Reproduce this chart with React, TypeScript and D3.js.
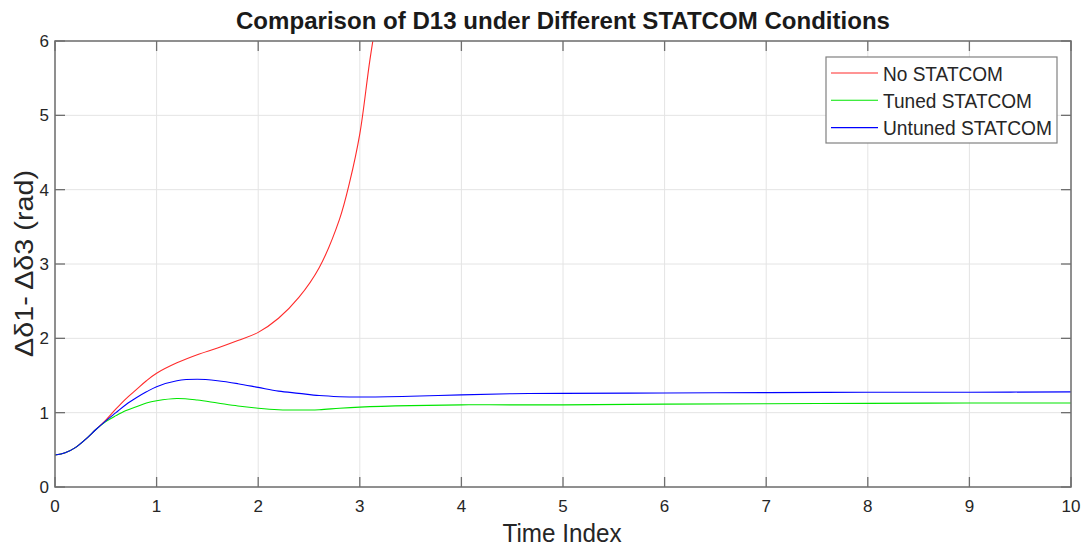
import React, { useRef, useEffect } from "react";
import * as d3 from "d3";

// sample times for the stable runs
const timeIndex = [
  0, 0.1, 0.2, 0.3, 0.4, 0.5, 0.6, 0.7, 0.8, 0.9, 1.0, 1.2, 1.4, 1.6, 1.8, 2.0,
  2.2, 2.4, 2.6, 2.8, 3.0, 3.5, 4, 4.5, 5, 6, 7, 8, 9, 10,
];
const tunedStatcom = [
  0.43, 0.46, 0.53, 0.64, 0.77, 0.88, 0.96, 1.03, 1.08, 1.13, 1.16, 1.19, 1.17,
  1.13, 1.09, 1.06, 1.04, 1.035, 1.04, 1.06, 1.075, 1.095, 1.105, 1.105, 1.105,
  1.115, 1.12, 1.125, 1.13, 1.13,
];
const untunedStatcom = [
  0.43, 0.46, 0.53, 0.64, 0.77, 0.89, 1.0, 1.11, 1.2, 1.28, 1.35, 1.43, 1.45,
  1.43, 1.39, 1.34, 1.29, 1.26, 1.23, 1.215, 1.21, 1.22, 1.24, 1.255, 1.26,
  1.265, 1.27, 1.275, 1.275, 1.28,
];
// unstable run, leaves the plot near t = 3.1
const timeNoStatcom = [
  0, 0.1, 0.2, 0.3, 0.4, 0.5, 0.6, 0.7, 0.8, 0.9, 1.0, 1.2, 1.4, 1.6, 1.8, 2.0,
  2.2, 2.4, 2.6, 2.8, 2.9, 3.0, 3.1, 3.2,
];
const noStatcom = [
  0.43, 0.46, 0.53, 0.64, 0.77, 0.9, 1.05, 1.19, 1.31, 1.43, 1.53, 1.67, 1.78,
  1.87, 1.97, 2.08, 2.27, 2.55, 2.95, 3.6, 4.1, 4.75, 5.75, 6.6,
];

const xTicks = [0, 1, 2, 3, 4, 5, 6, 7, 8, 9, 10];
const yTicks = [0, 1, 2, 3, 4, 5, 6];

const seriesNames = ["No STATCOM", "Tuned STATCOM", "Untuned STATCOM"];
const seriesColors = ["#ff2a2a", "#00e600", "#0000ff"];

const W = 1083;
const H = 548;
const margin = { left: 55, right: 12, top: 41, bottom: 61 };
const font = "'Liberation Sans', Arial, sans-serif";

const App = () => {
  const ref: any = useRef();

  useEffect(() => {
    const svg = d3.select(ref.current);
    svg.selectAll("*").remove();

    const x = d3
      .scaleLinear()
      .domain([0, 10])
      .range([margin.left, W - margin.right]);
    const y = d3
      .scaleLinear()
      .domain([0, 6])
      .range([H - margin.bottom, margin.top]);

    const [x0, x1] = x.range();
    const [y0, y1] = y.range();

    // grid
    const grid = svg.append("g");
    grid
      .selectAll(".gx")
      .data(xTicks)
      .enter()
      .append("line")
      .attr("x1", (d: any) => x(d))
      .attr("x2", (d: any) => x(d))
      .attr("y1", y0)
      .attr("y2", y1)
      .attr("stroke", "#e4e4e4");
    grid
      .selectAll(".gy")
      .data(yTicks)
      .enter()
      .append("line")
      .attr("y1", (d: any) => y(d))
      .attr("y2", (d: any) => y(d))
      .attr("x1", x0)
      .attr("x2", x1)
      .attr("stroke", "#e4e4e4");

    // lines, clipped to the axes box
    svg
      .append("clipPath")
      .attr("id", "plot-clip")
      .append("rect")
      .attr("x", x0)
      .attr("y", y1)
      .attr("width", x1 - x0)
      .attr("height", y0 - y1);

    const line = d3
      .line<[number, number]>()
      .x((d) => x(d[0]))
      .y((d) => y(d[1]))
      .curve(d3.curveCatmullRom.alpha(0.5));

    const series: [number, number][][] = [
      timeNoStatcom.map((t, i) => [t, noStatcom[i]]),
      timeIndex.map((t, i) => [t, tunedStatcom[i]]),
      timeIndex.map((t, i) => [t, untunedStatcom[i]]),
    ];

    const lines = svg.append("g").attr("clip-path", "url(#plot-clip)");
    [0, 1, 2].forEach((k) => {
      lines
        .append("path")
        .attr("d", line(series[k]))
        .attr("fill", "none")
        .attr("stroke", seriesColors[k])
        .attr("stroke-width", 1.1);
    });

    // box + inward ticks
    const axisColor = "#6f6f6f";
    svg
      .append("rect")
      .attr("x", x0)
      .attr("y", y1)
      .attr("width", x1 - x0)
      .attr("height", y0 - y1)
      .attr("fill", "none")
      .attr("stroke", axisColor)
      .attr("stroke-width", 1.5);

    const tickLen = 10;
    const ticks = svg.append("g").attr("stroke", axisColor).attr("stroke-width", 1.3);
    xTicks.forEach((t) => {
      ticks.append("line").attr("x1", x(t)).attr("x2", x(t)).attr("y1", y0).attr("y2", y0 - tickLen);
      ticks.append("line").attr("x1", x(t)).attr("x2", x(t)).attr("y1", y1).attr("y2", y1 + tickLen);
    });
    yTicks.forEach((t) => {
      ticks.append("line").attr("y1", y(t)).attr("y2", y(t)).attr("x1", x0).attr("x2", x0 + tickLen);
      ticks.append("line").attr("y1", y(t)).attr("y2", y(t)).attr("x1", x1).attr("x2", x1 - tickLen);
    });

    // tick labels
    svg
      .append("g")
      .selectAll("text")
      .data(xTicks)
      .enter()
      .append("text")
      .attr("x", (d: any) => x(d))
      .attr("y", y0 + 25)
      .attr("text-anchor", "middle")
      .attr("font-family", font)
      .attr("font-size", 17)
      .attr("fill", "#262626")
      .text((d: any) => d);
    svg
      .append("g")
      .selectAll("text")
      .data(yTicks)
      .enter()
      .append("text")
      .attr("x", x0 - 6)
      .attr("y", (d: any) => y(d) + 6)
      .attr("text-anchor", "end")
      .attr("font-family", font)
      .attr("font-size", 17)
      .attr("fill", "#262626")
      .text((d: any) => d);

    // title and axis labels
    svg
      .append("text")
      .attr("x", 563)
      .attr("y", 29)
      .attr("text-anchor", "middle")
      .attr("font-family", font)
      .attr("font-weight", "bold")
      .attr("font-size", 24)
      .attr("fill", "#1a1a1a")
      .attr("textLength", 654)
      .attr("lengthAdjust", "spacingAndGlyphs")
      .text("Comparison of D13 under Different STATCOM Conditions");

    svg
      .append("text")
      .attr("x", 562)
      .attr("y", 542)
      .attr("text-anchor", "middle")
      .attr("font-family", font)
      .attr("font-size", 25)
      .attr("fill", "#262626")
      .attr("textLength", 119)
      .attr("lengthAdjust", "spacingAndGlyphs")
      .text("Time Index");

    svg
      .append("text")
      .attr("transform", "translate(33,263.5) rotate(-90)")
      .attr("text-anchor", "middle")
      .attr("font-family", font)
      .attr("font-size", 25)
      .attr("fill", "#262626")
      .attr("textLength", 187)
      .attr("lengthAdjust", "spacingAndGlyphs")
      .text("Δδ1- Δδ3 (rad)");

    // legend
    const legend = svg.append("g");
    legend
      .append("rect")
      .attr("x", 826)
      .attr("y", 57)
      .attr("width", 231)
      .attr("height", 86)
      .attr("fill", "#ffffff")
      .attr("stroke", "#808080")
      .attr("stroke-width", 1.2);
    const textLens = [120, 149, 169];
    seriesNames.forEach((name, i) => {
      const ly = 73 + i * 27.3;
      legend
        .append("line")
        .attr("x1", 831)
        .attr("x2", 878)
        .attr("y1", ly)
        .attr("y2", ly)
        .attr("stroke", seriesColors[i])
        .attr("stroke-width", 1.1);
      legend
        .append("text")
        .attr("x", 883)
        .attr("y", ly + 7.5)
        .attr("font-family", font)
        .attr("font-size", 20)
        .attr("fill", "#262626")
        .attr("textLength", textLens[i])
        .attr("lengthAdjust", "spacingAndGlyphs")
        .text(name);
    });
  }, []);

  return (
    <svg
      ref={ref}
      width={W}
      height={H}
      style={{ position: "absolute", left: 0, top: 0, background: "#ffffff" }}
    />
  );
};

export default App;
